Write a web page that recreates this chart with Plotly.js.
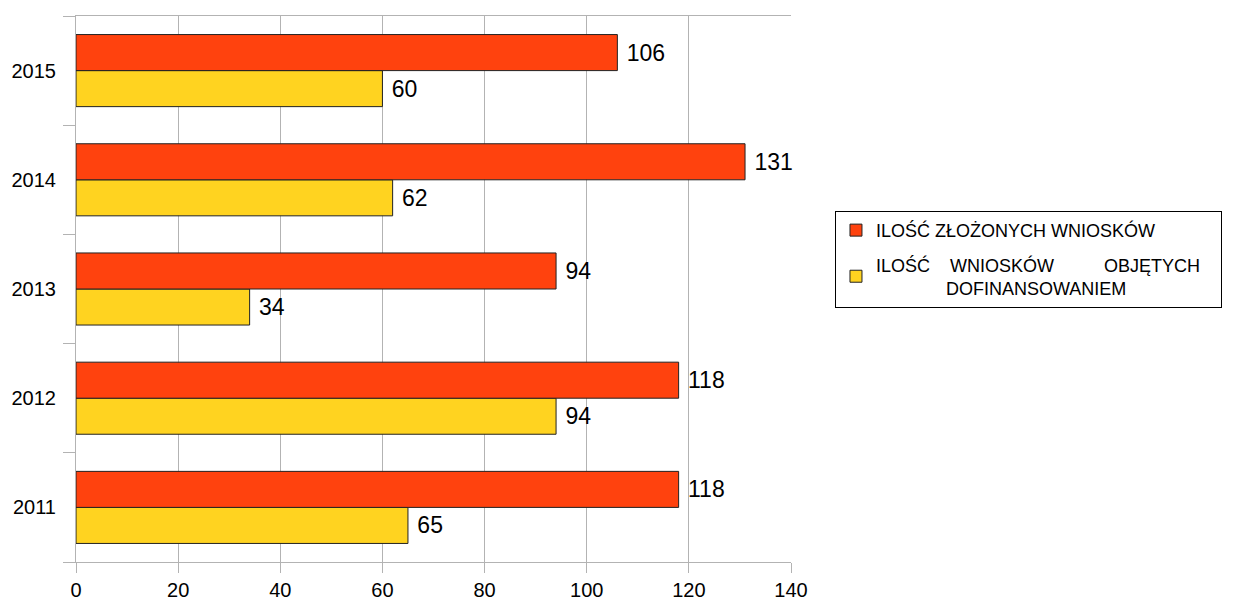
<!DOCTYPE html>
<html>
<head>
<meta charset="utf-8">
<script src="https://cdn.plot.ly/plotly-3.0.1.min.js"></script>
<style>html,body{margin:0;padding:0;background:#fff;}#chart{width:1242px;height:602px;}</style>
</head>
<body>
<div id="chart"></div>
<script>
var years = ['2011', '2012', '2013', '2014', '2015'];
var zlozone = [118, 118, 94, 131, 106];
var objete = [65, 94, 34, 62, 60];
var xTicks = [0, 20, 40, 60, 80, 100, 120, 140];
var nameRed = 'ILOŚĆ ZŁOŻONYCH WNIOSKÓW\u00a0\u00a0\u00a0\u00a0\u00a0\u00a0\u00a0\u00a0\u00a0\u00a0\u00a0\u00a0';
var nameYellow = 'ILOŚĆ\u00a0\u00a0\u00a0\u00a0WNIOSKÓW\u00a0\u00a0\u00a0\u00a0\u00a0\u00a0\u00a0\u00a0\u00a0\u00a0OBJĘTYCH<br>\u00a0\u00a0\u00a0\u00a0\u00a0\u00a0\u00a0\u00a0\u00a0\u00a0\u00a0\u00a0\u00a0\u00a0DOFINANSOWANIEM';

var font = 'Liberation Sans, Arial, sans-serif';

var traces = [
  {
    type: 'bar', orientation: 'h', y: years, x: objete, name: nameYellow,
    marker: {color: '#FFD320', line: {color: '#222', width: 1}},
    text: objete.map(function(v){return '\u00a0' + v;}), textposition: 'outside',
    textfont: {family: font, size: 23, color: '#000'}, cliponaxis: false,
    legendrank: 2, legendgroup: 'b', hoverinfo: 'none'
  },
  {
    type: 'bar', orientation: 'h', y: years, x: zlozone, name: nameRed,
    marker: {color: '#FF420E', line: {color: '#222', width: 1}},
    text: zlozone.map(function(v){return '\u00a0' + v;}), textposition: 'outside',
    textfont: {family: font, size: 23, color: '#000'}, cliponaxis: false,
    legendrank: 1, legendgroup: 'a', hoverinfo: 'none'
  }
];

var layout = {
  width: 1242, height: 602,
  margin: {l: 76, r: 451, t: 16, b: 40, pad: 0, autoexpand: false},
  paper_bgcolor: '#fff', plot_bgcolor: '#fff',
  font: {family: font, size: 20, color: '#000'},
  barmode: 'group', bargap: 0.34, bargroupgap: 0,
  showlegend: true,
  legend: {
    x: 1.0615, y: 0.643, xanchor: 'left', yanchor: 'top',
    bordercolor: '#000', borderwidth: 1, bgcolor: '#fff',
    font: {family: font, size: 18, color: '#000'},
    tracegroupgap: 8, itemwidth: 30
  },
  xaxis: {
    range: [0, 140], tickvals: xTicks, ticktext: xTicks.map(String),
    showgrid: true, gridcolor: '#b3b3b3', gridwidth: 1,
    showline: true, linecolor: '#b3b3b3', linewidth: 1, mirror: true,
    ticks: 'outside', ticklen: 10, tickcolor: '#b3b3b3',
    zeroline: false, fixedrange: true,
    tickfont: {family: font, size: 20, color: '#000'}
  },
  yaxis: {
    type: 'category', categoryorder: 'array', categoryarray: years,
    showgrid: false, showline: true, linecolor: '#b3b3b3', linewidth: 1,
    ticks: 'outside', tickson: 'boundaries', ticklen: 12, tickcolor: '#b3b3b3',
    ticklabelstandoff: 15,
    tickfont: {family: font, size: 20, color: '#000'}, fixedrange: true
  }
};

Plotly.newPlot('chart', traces, layout, {displayModeBar: false, staticPlot: true});
</script>
</body>
</html>
